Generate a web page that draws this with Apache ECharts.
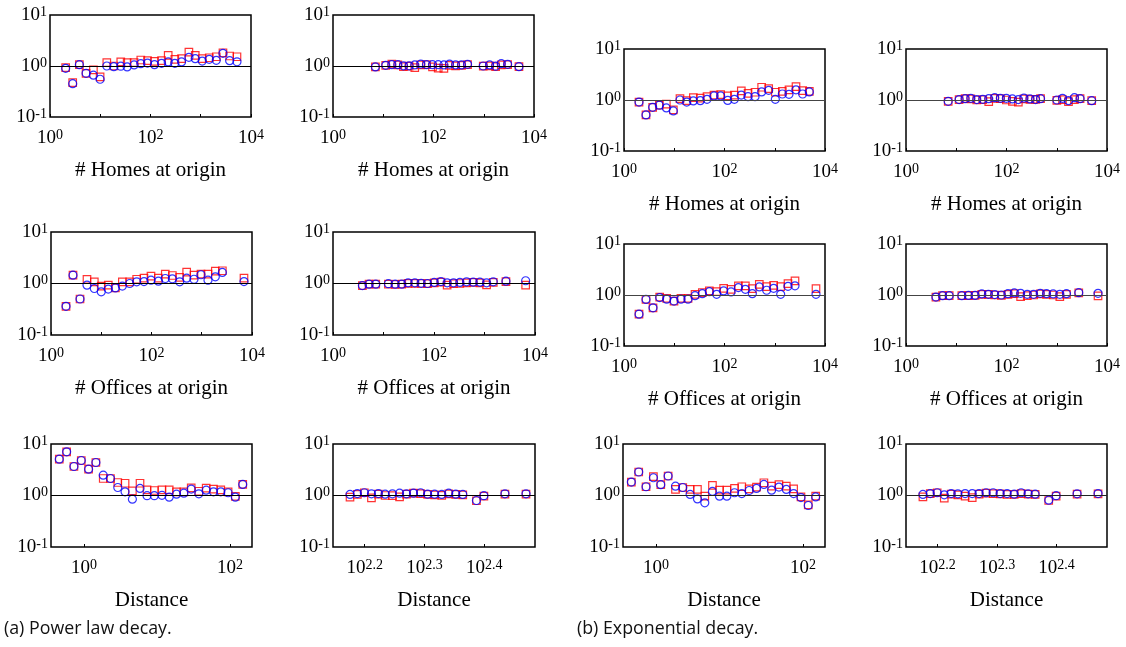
<!DOCTYPE html>
<html><head><meta charset="utf-8">
<script src="https://cdn.jsdelivr.net/npm/echarts@6/dist/echarts.min.js"></script>
<style>html,body{margin:0;padding:0;background:#fff}#c{width:1126px;height:647px}</style>
</head><body><div id="c"></div>
<script>
// ---------- tick labels ----------
const countLabels = [1, 100, 10000];            // 10^0, 10^2, 10^4
const countTicks = [1, 10, 100, 1000, 10000];
const ratioLabels = [0.1, 1, 10];               // 10^-1, 10^0, 10^1
const distLabels = [1, 100];                    // 10^0, 10^2
const farDistLabels = [158.49, 199.53, 251.19]; // 10^2.2, 10^2.3, 10^2.4
const REF = 1;

const titleHomes = '# Homes at origin';
const titleOffices = '# Offices at origin';
const titleDistance = 'Distance';

// ---------- (a) Power law decay ----------
const p1x = [2.05, 2.83, 3.84, 5.22, 7.31, 9.93, 13.5, 18.6, 25.6, 34.3, 47.2, 64.1, 87.1, 120, 166, 225, 305, 415, 581, 777, 1071, 1476, 2037, 2767, 3758, 5260];
const p1Red = [0.93, 0.47, 1.06, 0.72, 0.84, 0.61, 1.16, 1.00, 1.20, 1.16, 1.16, 1.31, 1.27, 1.23, 1.27, 1.61, 1.35, 1.39, 1.87, 1.61, 1.39, 1.45, 1.52, 1.82, 1.57, 1.52];
const p1Blue = [0.90, 0.45, 1.06, 0.72, 0.66, 0.55, 1.00, 0.97, 0.99, 0.96, 1.05, 1.11, 1.14, 1.06, 1.13, 1.20, 1.13, 1.20, 1.48, 1.39, 1.25, 1.35, 1.29, 1.77, 1.27, 1.21];

const p2x = [6.98, 11.2, 14.8, 19.5, 25.2, 32.7, 42.4, 55.9, 72.5, 95.5, 124, 161, 208, 275, 361, 476, 977, 1307, 1722, 2233, 2985, 5020];
const p2Red = [0.96, 1.03, 1.09, 1.05, 0.97, 0.99, 0.93, 1.05, 1.06, 0.96, 0.91, 0.90, 1.03, 1.01, 1.03, 1.06, 0.99, 1.01, 0.97, 1.05, 1.06, 0.97];
const p2Blue = [0.96, 1.03, 1.06, 1.06, 1.01, 1.01, 1.05, 1.09, 1.06, 1.06, 1.06, 1.05, 1.09, 1.05, 1.05, 1.08, 1.00, 1.05, 0.99, 1.11, 1.08, 0.97];

const p3x = [1.99, 2.74, 3.78, 5.20, 7.28, 10.0, 13.8, 19.1, 26.3, 36.8, 50.7, 70.9, 97.7, 137, 188, 260, 364, 501, 701, 966, 1331, 1863, 2570, 6930];
const p3Red = [0.36, 1.45, 0.50, 1.20, 1.08, 0.89, 0.93, 0.82, 1.08, 1.08, 1.21, 1.27, 1.39, 1.27, 1.52, 1.43, 1.31, 1.66, 1.45, 1.52, 1.52, 1.74, 1.77, 1.27];
const p3Blue = [0.36, 1.45, 0.50, 0.93, 0.80, 0.69, 0.78, 0.82, 0.89, 1.00, 1.08, 1.09, 1.16, 1.11, 1.25, 1.23, 1.08, 1.27, 1.21, 1.48, 1.16, 1.35, 1.64, 1.09];

const p4x = [3.82, 5.18, 7.02, 12.5, 17.0, 23.0, 30.7, 41.7, 55.6, 74.3, 101, 137, 182, 244, 325, 441, 598, 811, 1099, 1492, 2660, 6530];
const p4Red = [0.91, 0.97, 0.97, 0.97, 0.96, 0.97, 1.01, 1.01, 1.00, 0.99, 1.03, 1.06, 0.93, 0.99, 1.00, 1.03, 1.05, 1.03, 0.94, 1.05, 1.09, 0.93];
const p4Blue = [0.91, 0.97, 0.97, 0.99, 0.97, 0.97, 1.03, 1.03, 1.01, 1.00, 1.05, 1.09, 1.03, 1.03, 1.05, 1.08, 1.06, 1.06, 1.03, 1.08, 1.11, 1.13];

const distX = [0.461, 0.581, 0.731, 0.921, 1.16, 1.46, 1.84, 2.31, 2.91, 3.66, 4.61, 5.86, 7.31, 9.20, 11.7, 14.7, 18.5, 23.3, 29.4, 37.4, 47.1, 59.3, 74.6, 94.0, 118, 149];
const p5Red = [5.08, 7.05, 3.66, 4.78, 3.25, 4.37, 2.14, 2.14, 1.79, 1.73, 1.23, 1.73, 1.29, 1.25, 1.29, 1.29, 1.18, 1.18, 1.41, 1.21, 1.39, 1.33, 1.29, 1.18, 0.96, 1.64];
const p5Blue = [5.08, 7.05, 3.66, 4.78, 3.25, 4.37, 2.48, 2.14, 1.43, 1.18, 0.85, 1.37, 0.99, 0.99, 1.01, 0.93, 1.06, 1.11, 1.33, 1.08, 1.27, 1.18, 1.18, 1.13, 0.93, 1.64];

const farDistX = [149.8, 154.1, 158.3, 162.7, 167.1, 171.5, 176.4, 181.3, 186.2, 191.3, 196.6, 202.0, 207.5, 213.3, 219.1, 225.1, 231.3, 243.8, 250.9, 272.1, 295.1];
const p6Red = [0.93, 1.05, 1.13, 0.90, 1.06, 1.00, 0.99, 0.94, 1.06, 1.11, 1.09, 1.05, 1.03, 1.01, 1.08, 1.05, 1.03, 0.79, 0.97, 1.06, 1.06];
const p6Blue = [1.05, 1.09, 1.13, 1.08, 1.09, 1.06, 1.08, 1.11, 1.08, 1.11, 1.13, 1.06, 1.06, 1.05, 1.11, 1.06, 1.05, 0.80, 0.99, 1.08, 1.08];

// ---------- (b) Exponential decay ----------
const p7x = [1.99, 2.74, 3.72, 5.05, 6.96, 9.59, 13.0, 17.7, 24.0, 33.0, 44.9, 61.8, 83.9, 116, 157, 216, 294, 405, 549, 757, 1027, 1416, 1921, 2648, 3594, 4878];
const p7Red = [0.91, 0.51, 0.72, 0.79, 0.83, 0.64, 1.06, 0.97, 1.11, 1.09, 1.16, 1.25, 1.27, 1.20, 1.25, 1.51, 1.35, 1.42, 1.78, 1.67, 1.42, 1.48, 1.58, 1.83, 1.53, 1.48];
const p7Blue = [0.91, 0.51, 0.72, 0.79, 0.70, 0.61, 1.00, 0.91, 0.96, 0.97, 1.03, 1.20, 1.20, 0.98, 1.03, 1.25, 1.16, 1.16, 1.44, 1.55, 1.03, 1.31, 1.29, 1.58, 1.31, 1.44];

const p8x = [6.91, 11.4, 15.0, 19.5, 25.6, 33.7, 44.3, 58.3, 75.4, 99.3, 131, 172, 222, 293, 379, 476, 1004, 1301, 1711, 2250, 2913, 4962];
const p8Red = [0.94, 1.02, 1.06, 1.05, 1.00, 1.02, 0.93, 1.08, 1.06, 1.00, 0.94, 0.91, 1.05, 1.03, 1.03, 1.06, 0.98, 1.02, 0.93, 1.02, 1.06, 0.97];
const p8Blue = [0.94, 1.02, 1.06, 1.08, 1.02, 1.03, 1.06, 1.11, 1.08, 1.08, 1.05, 1.02, 1.09, 1.05, 1.02, 1.06, 1.00, 1.08, 0.97, 1.11, 1.06, 0.97];

const p9x = [1.99, 2.74, 3.78, 5.13, 7.07, 9.89, 13.6, 18.8, 25.9, 36.2, 49.9, 69.8, 96.2, 135, 189, 260, 358, 493, 690, 951, 1312, 1835, 2529, 6620];
const p9Red = [0.42, 0.82, 0.56, 0.91, 0.86, 0.76, 0.86, 0.86, 1.03, 1.11, 1.20, 1.16, 1.35, 1.29, 1.51, 1.51, 1.33, 1.62, 1.46, 1.55, 1.46, 1.67, 1.89, 1.33];
const p9Blue = [0.42, 0.82, 0.56, 0.89, 0.83, 0.76, 0.83, 0.83, 0.97, 1.06, 1.16, 1.03, 1.20, 1.15, 1.40, 1.29, 1.06, 1.44, 1.24, 1.35, 1.03, 1.48, 1.51, 1.03];

const p10x = [3.94, 5.34, 7.24, 12.9, 17.5, 23.7, 32.2, 43.6, 58.2, 79.0, 107, 143, 191, 259, 346, 469, 626, 849, 1151, 1561, 2742, 6630];
const p10Red = [0.91, 0.97, 0.97, 0.97, 0.97, 0.98, 1.03, 1.03, 1.00, 0.98, 1.03, 1.06, 0.93, 0.97, 1.00, 1.05, 1.03, 1.00, 0.93, 1.03, 1.10, 0.96];
const p10Blue = [0.91, 0.97, 0.97, 0.97, 0.98, 0.98, 1.05, 1.03, 1.02, 1.00, 1.06, 1.10, 1.08, 1.03, 1.03, 1.08, 1.06, 1.05, 1.03, 1.06, 1.11, 1.08];

const p11Red = [1.82, 2.86, 1.48, 2.32, 1.62, 2.39, 1.31, 1.43, 1.31, 1.31, 0.97, 1.57, 1.27, 1.27, 1.37, 1.48, 1.35, 1.46, 1.77, 1.52, 1.62, 1.52, 1.35, 0.94, 0.66, 0.97];
const p11Blue = [1.82, 2.86, 1.48, 2.21, 1.62, 2.39, 1.52, 1.43, 1.05, 0.86, 0.72, 1.20, 0.97, 0.97, 1.13, 1.09, 1.25, 1.37, 1.64, 1.27, 1.46, 1.31, 1.09, 0.91, 0.64, 0.94];

const p12Red = [0.94, 1.09, 1.13, 0.89, 1.06, 1.03, 0.97, 0.91, 1.06, 1.11, 1.09, 1.08, 1.05, 1.05, 1.09, 1.06, 1.05, 0.80, 0.97, 1.06, 1.08];
const p12Blue = [1.05, 1.09, 1.13, 1.03, 1.09, 1.08, 1.09, 1.09, 1.09, 1.13, 1.13, 1.09, 1.09, 1.06, 1.13, 1.08, 1.06, 0.81, 0.99, 1.08, 1.09];

// ---------- layout ----------
const SERIF = 'Liberation Serif';
const axisKinds = {
  count: {min: 1, max: 10000, labels: countLabels, ticks: countTicks},
  dist: {min: 0.355, max: 199.5, labels: distLabels, ticks: distLabels},
  far: {min: 140.3, max: 305.5, labels: farDistLabels, ticks: farDistLabels}
};
const panels = [
  {rect: [50, 15, 201, 102], x: p1x, red: p1Red, blue: p1Blue, kind: 'count', name: titleHomes, ref: '#000'},
  {rect: [333, 15, 201, 102], x: p2x, red: p2Red, blue: p2Blue, kind: 'count', name: titleHomes, ref: '#000'},
  {rect: [51, 232, 201, 103], x: p3x, red: p3Red, blue: p3Blue, kind: 'count', name: titleOffices, ref: '#000'},
  {rect: [333, 232, 202, 103], x: p4x, red: p4Red, blue: p4Blue, kind: 'count', name: titleOffices, ref: '#000'},
  {rect: [51, 444, 201, 103], x: distX, red: p5Red, blue: p5Blue, kind: 'dist', name: titleDistance, ref: '#000'},
  {rect: [333, 444, 202, 103], x: farDistX, red: p6Red, blue: p6Blue, kind: 'far', name: titleDistance, ref: '#000'},
  {rect: [624, 49, 201, 102], x: p7x, red: p7Red, blue: p7Blue, kind: 'count', name: titleHomes, ref: '#444'},
  {rect: [906, 49, 201, 102], x: p8x, red: p8Red, blue: p8Blue, kind: 'count', name: titleHomes, ref: '#444'},
  {rect: [624, 244, 201, 102], x: p9x, red: p9Red, blue: p9Blue, kind: 'count', name: titleOffices, ref: '#444'},
  {rect: [906, 244, 201, 102], x: p10x, red: p10Red, blue: p10Blue, kind: 'count', name: titleOffices, ref: '#444'},
  {rect: [623, 444, 202, 103], x: distX, red: p11Red, blue: p11Blue, kind: 'dist', name: titleDistance, ref: '#222'},
  {rect: [906, 444, 201, 103], x: farDistX, red: p12Red, blue: p12Blue, kind: 'far', name: titleDistance, ref: '#222'}
];

function powLabel(v) {
  const e = Math.round(Math.log10(v) * 10) / 10;
  return '{b|10}{s|' + e + '}';
}
const rich = {
  b: {fontFamily: SERIF, fontSize: 19, color: '#000', lineHeight: 20},
  s: {fontFamily: SERIF, fontSize: 14, color: '#000', verticalAlign: 'top', lineHeight: 8}
};

const grid = [], xAxis = [], yAxis = [], series = [];
panels.forEach((p, i) => {
  const k = axisKinds[p.kind];
  grid.push({left: p.rect[0], top: p.rect[1], width: p.rect[2], height: p.rect[3],
    show: true, borderColor: '#000', borderWidth: 1.5, backgroundColor: 'transparent',
    containLabel: false, outerBoundsMode: 'none'});
  xAxis.push({type: 'log', logBase: 10, gridIndex: i, min: k.min, max: k.max,
    name: p.name, nameLocation: 'middle', nameGap: 53,
    nameTextStyle: {fontFamily: SERIF, fontSize: 21, color: '#000', verticalAlign: 'middle'},
    axisLine: {show: false}, splitLine: {show: false},
    axisTick: {show: true, inside: true, length: 3, customValues: k.ticks, lineStyle: {color: '#000', width: 1}},
    axisLabel: {customValues: k.labels, formatter: powLabel, rich: rich, margin: 11,
      color: '#000', fontFamily: SERIF, fontSize: 19}
  });
  yAxis.push({type: 'log', logBase: 10, gridIndex: i, min: 0.1, max: 10,
    axisLine: {show: false}, splitLine: {show: false},
    axisTick: {show: false},
    axisLabel: {customValues: ratioLabels, formatter: powLabel, rich: rich, margin: 3,
      color: '#000', fontFamily: SERIF, fontSize: 19}
  });
  series.push({type: 'scatter', xAxisIndex: i, yAxisIndex: i,
    data: p.x.map((v, j) => [v, p.red[j]]),
    symbol: 'rect', symbolSize: 7.5,
    itemStyle: {color: 'transparent', borderColor: '#ff0000', borderWidth: 1.2},
    emphasis: {disabled: true}, silent: true,
    markLine: {silent: true, symbol: 'none', label: {show: false},
      lineStyle: {color: p.ref, width: 1, type: 'solid'}, data: [{yAxis: REF}], animation: false}
  });
  series.push({type: 'scatter', xAxisIndex: i, yAxisIndex: i,
    data: p.x.map((v, j) => [v, p.blue[j]]),
    symbol: 'circle', symbolSize: 8,
    itemStyle: {color: 'transparent', borderColor: '#0000ff', borderWidth: 1.2},
    emphasis: {disabled: true}, silent: true
  });
});

const chart = echarts.init(document.getElementById('c'), null, {renderer: 'canvas'});
chart.setOption({
  animation: false,
  backgroundColor: '#fff',
  grid, xAxis, yAxis, series,
  graphic: [
    {type: 'text', left: 4, top: 620, style: {text: '(a) Power law decay.', fontFamily: 'Open Sans', fontSize: 17.8, fill: '#111'}},
    {type: 'text', left: 577, top: 620, style: {text: '(b) Exponential decay.', fontFamily: 'Open Sans', fontSize: 17.8, fill: '#111'}}
  ]
});
</script>
</body></html>
